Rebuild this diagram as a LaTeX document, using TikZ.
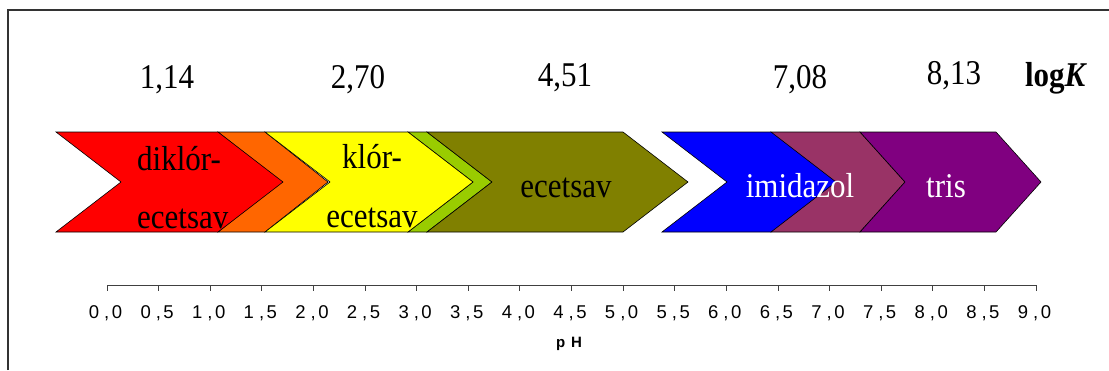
\documentclass[tikz,border=0pt]{standalone}
\usepackage{fontspec}
\usepackage{graphicx}
\setmainfont{Liberation Serif}
\newfontfamily\arialf{Liberation Sans}
\definecolor{cred}{HTML}{FF0000}
\definecolor{corange}{HTML}{FF6600}
\definecolor{cyellow}{HTML}{FFFF00}
\definecolor{cgreen}{HTML}{99CC00}
\definecolor{colive}{HTML}{808000}
\definecolor{cblue}{HTML}{0000FF}
\definecolor{cmauve}{HTML}{993366}
\definecolor{cpurple}{HTML}{800080}
\newcommand\tallt[1]{\scalebox{1}[1.12]{#1}}
\begin{document}
\begin{tikzpicture}[x=1pt,y=-1pt,
  chev/.style={draw=black,line width=0.6pt,line join=miter},
  big/.style={font=\fontsize{31}{31}\selectfont,inner sep=0pt,anchor=base},
  ticklab/.style={font=\arialf\fontsize{18.5}{18.5}\selectfont,inner sep=0pt,anchor=base},
  axislab/.style={font=\arialf\bfseries\fontsize{15}{15}\selectfont,inner sep=0pt,anchor=base},
]
\useasboundingbox (0,0) rectangle (1109,370);
% frame
\draw[line width=1.3pt,color=black!80] (8,370) -- (8,10) -- (1109,10);
% chevrons
\newcommand\chevshape[4]{%
  \filldraw[chev,fill=#1] (#2,132) -- (#3,132) -- ({#3+#4},182) -- (#3,232) -- (#2,232) -- ({#2+#4},182) -- cycle;}
\chevshape{corange}{218}{265}{63}
\chevshape{cred}{56}{218}{65}
\chevshape{cgreen}{408}{427}{65}
\chevshape{cyellow}{265}{408}{65}
\chevshape{colive}{427}{623}{65}
\chevshape{cmauve}{771}{860}{45}
\chevshape{cblue}{662}{771}{65}
\chevshape{cpurple}{860}{996}{45}
% chevron labels
\node[big,anchor=base west] (l1a) at (137,170) {\tallt{diklór-}};
\node[big,anchor=base west] (l1b) at (137,228) {\tallt{ecetsav}};
\node[big] (l2a) at (372,168) {\tallt{klór-}};
\node[big] (l2b) at (372,227) {\tallt{ecetsav}};
\node[big] (l3) at (566,197) {\tallt{ecetsav}};
\node[big,text=white] (l4) at (800,197) {\tallt{imidazol}};
\node[big,text=white] (l5) at (946,197) {\tallt{tris}};
% logK values
\node[big] (k1) at (167,88) {\tallt{1,14}};
\node[big] (k2) at (358,88) {\tallt{2,70}};
\node[big] (k3) at (565,86) {\tallt{4,51}};
\node[big] (k4) at (800,88) {\tallt{7,08}};
\node[big] (k5) at (954,84) {\tallt{8,13}};
\node[big] (klab) at (1056,86) {\tallt{\textbf{log\textit{K}}}};
% axis
\draw[line width=0.8pt,color=black!75] (107,285) -- (1036,285);
\foreach \k in {0,...,18}{
  \pgfmathsetmacro\xx{107+\k*51.61}
  \pgfmathtruncatemacro\a{\k/2}
  \pgfmathtruncatemacro\b{mod(\k,2)*5}
  \draw[line width=0.8pt,color=black!75] (\xx,285) -- (\xx,291);
  \node[ticklab] (t\k) at (\xx-1.5,318) {\a\hspace{5pt},\hspace{2.5pt}\b};
}
\node[axislab] (ph) at (569,347) {p\hspace{6pt}H};
\end{tikzpicture}
\end{document}
